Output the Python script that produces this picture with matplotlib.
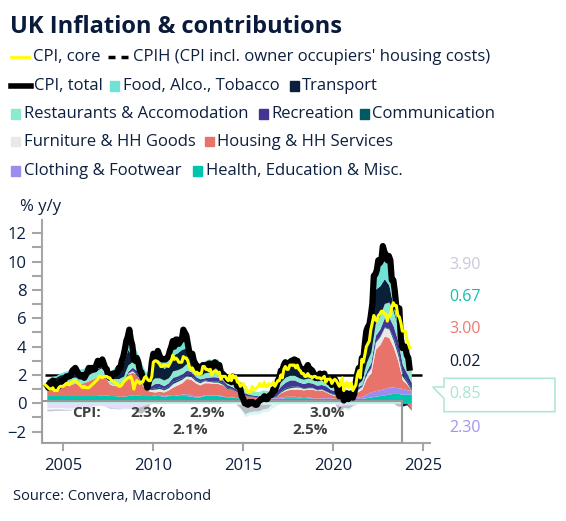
import numpy as np
import matplotlib
matplotlib.use('Agg')
import matplotlib.pyplot as plt
from matplotlib.lines import Line2D
from matplotlib.patches import Rectangle, Polygon
from matplotlib.ticker import MultipleLocator

plt.rcParams['font.family'] = ['Open Sans', 'DejaVu Sans']

W, H = 566, 521
NAVY = '#0c1f3f'
GREY = '#a6a6a6'

# CPI headline and core, % y/y, monthly Jan 2004 - Apr 2024
cpi_total = [
    1.4, 1.3, 1.1, 1.1, 1.5, 1.6, 1.4, 1.3, 1.1, 1.2, 1.5, 1.6,
    1.6, 1.7, 1.9, 1.9, 1.9, 2.0, 2.3, 2.4, 2.5, 2.3, 2.1, 1.9,
    1.9, 2.0, 1.8, 2.0, 2.2, 2.5, 2.4, 2.5, 2.4, 2.4, 2.7, 3.0,
    2.7, 2.8, 3.1, 2.8, 2.5, 2.4, 1.9, 1.8, 1.8, 2.1, 2.1, 2.1,
    2.2, 2.5, 2.5, 3.0, 3.3, 3.8, 4.4, 4.7, 5.2, 4.5, 4.1, 3.1,
    3.0, 3.2, 2.9, 2.3, 2.2, 1.8, 1.8, 1.6, 1.1, 1.5, 1.9, 2.9,
    3.5, 3.0, 3.4, 3.7, 3.4, 3.2, 3.1, 3.1, 3.1, 3.2, 3.3, 3.7,
    4.0, 4.4, 4.0, 4.5, 4.5, 4.2, 4.4, 4.5, 5.2, 5.0, 4.8, 4.2,
    3.6, 3.4, 3.5, 3.0, 2.8, 2.4, 2.6, 2.5, 2.2, 2.7, 2.7, 2.7,
    2.7, 2.8, 2.8, 2.4, 2.7, 2.9, 2.8, 2.7, 2.7, 2.2, 2.1, 2.0,
    1.9, 1.7, 1.6, 1.8, 1.5, 1.9, 1.6, 1.5, 1.2, 1.3, 1.0, 0.5,
    0.3, 0.0, 0.0, -0.1, 0.1, 0.0, 0.1, 0.0, -0.1, -0.1, 0.1, 0.2,
    0.3, 0.3, 0.5, 0.3, 0.3, 0.5, 0.6, 0.6, 1.0, 0.9, 1.2, 1.6,
    1.8, 2.3, 2.3, 2.7, 2.9, 2.6, 2.6, 2.9, 3.0, 3.0, 3.1, 3.0,
    3.0, 2.7, 2.5, 2.4, 2.4, 2.4, 2.5, 2.7, 2.4, 2.4, 2.3, 2.1,
    1.8, 1.9, 1.9, 2.1, 2.0, 2.0, 2.1, 1.7, 1.7, 1.5, 1.5, 1.3,
    1.8, 1.7, 1.5, 0.8, 0.5, 0.6, 1.0, 0.2, 0.5, 0.7, 0.3, 0.6,
    0.7, 0.4, 0.7, 1.5, 2.1, 2.5, 2.0, 3.2, 3.1, 4.2, 5.1, 5.4,
    5.5, 6.2, 7.0, 9.0, 9.1, 9.4, 10.1, 9.9, 10.1, 11.1, 10.7, 10.5,
    10.1, 10.4, 10.1, 8.7, 8.7, 7.9, 6.8, 6.7, 6.7, 4.6, 3.9, 4.0,
    4.0, 3.4, 3.2, 2.3,
]
cpi_core = [
    1.3, 1.2, 1.1, 1.0, 1.0, 1.1, 0.9, 0.9, 0.9, 1.1, 1.2, 1.2,
    1.2, 1.3, 1.4, 1.4, 1.3, 1.4, 1.5, 1.6, 1.6, 1.5, 1.4, 1.3,
    1.2, 1.1, 1.2, 1.1, 1.1, 1.1, 1.2, 1.3, 1.4, 1.5, 1.6, 1.7,
    1.9, 1.9, 1.8, 1.9, 1.9, 1.9, 1.8, 1.8, 1.6, 1.6, 1.5, 1.4,
    1.4, 1.2, 1.2, 1.3, 1.5, 1.6, 1.7, 1.8, 1.8, 1.9, 1.6, 1.0,
    1.4, 1.6, 1.5, 1.4, 1.5, 1.5, 1.8, 1.9, 1.7, 1.6, 1.6, 1.9,
    2.9, 3.0, 3.0, 2.9, 2.8, 2.6, 2.6, 2.7, 2.7, 2.7, 2.6, 2.8,
    3.0, 3.4, 3.1, 3.2, 3.1, 2.9, 2.9, 2.9, 3.3, 3.2, 3.2, 3.0,
    2.6, 2.4, 2.5, 2.3, 2.1, 2.2, 2.1, 2.1, 2.1, 2.6, 2.6, 2.4,
    2.4, 2.3, 2.4, 2.0, 2.2, 2.3, 2.3, 2.1, 2.2, 1.7, 1.9, 1.9,
    1.9, 1.7, 1.6, 2.0, 1.6, 2.0, 1.8, 1.9, 1.5, 1.5, 1.2, 1.3,
    1.4, 1.2, 1.0, 0.8, 0.9, 0.8, 1.2, 1.0, 1.0, 1.1, 1.2, 1.4,
    1.2, 1.2, 1.5, 1.2, 1.2, 1.4, 1.3, 1.3, 1.5, 1.2, 1.4, 1.6,
    1.6, 2.0, 1.8, 2.4, 2.6, 2.4, 2.4, 2.7, 2.7, 2.7, 2.7, 2.5,
    2.7, 2.4, 2.3, 2.1, 2.1, 1.9, 1.9, 2.1, 1.9, 1.9, 1.8, 1.9,
    1.9, 1.8, 1.8, 1.8, 1.7, 1.8, 1.9, 1.5, 1.7, 1.7, 1.7, 1.4,
    1.6, 1.7, 1.6, 1.4, 1.2, 1.4, 1.8, 0.9, 1.3, 1.5, 1.1, 1.4,
    1.4, 0.9, 1.1, 1.3, 2.0, 2.3, 1.8, 3.1, 2.9, 3.4, 4.0, 4.2,
    4.4, 5.2, 5.7, 6.2, 5.9, 5.8, 6.2, 6.3, 6.5, 6.5, 6.3, 6.3,
    5.8, 6.2, 6.2, 6.8, 7.1, 6.9, 6.9, 6.2, 6.1, 5.7, 5.1, 5.1,
    5.1, 4.5, 4.2, 3.9,
]

# contributions, pp, quarterly 2004Q1 - 2024Q2
food = [0.05, 0.10, 0.10, 0.15, 0.20, 0.25, 0.25, 0.20, 0.25, 0.25, 0.30, 0.35,
        0.40, 0.40, 0.30, 0.40, 0.55, 0.75, 1.00, 1.05, 0.95, 0.80, 0.60, 0.45,
        0.40, 0.40, 0.45, 0.60, 0.70, 0.65, 0.70, 0.70, 0.55, 0.40, 0.30, 0.45,
        0.55, 0.60, 0.55, 0.40, 0.25, 0.05, 0.00, -0.05, -0.20, -0.20, -0.20, -0.20,
        -0.20, -0.25, -0.30, -0.15, 0.05, 0.20, 0.35, 0.45, 0.35, 0.20, 0.20, 0.15,
        0.20, 0.25, 0.25, 0.25, 0.25, 0.15, -0.05, -0.15, -0.05, -0.05, 0.00, 0.35,
        0.55, 1.00, 1.55, 2.00, 2.10, 2.20, 1.75, 1.20, 0.80, 0.45]
transport = [0.15, 0.30, 0.35, 0.40, 0.35, 0.35, 0.50, 0.35, 0.30, 0.40, 0.30, 0.10,
             0.10, 0.05, 0.00, 0.40, 0.50, 0.90, 1.10, 0.30, -0.30, -0.50, -0.35, 0.30,
             1.10, 1.20, 0.80, 0.90, 1.10, 1.20, 1.30, 1.10, 0.60, 0.30, 0.30, 0.40,
             0.40, 0.20, 0.40, 0.10, 0.05, 0.20, 0.10, -0.30, -0.70, -0.50, -0.50, -0.50,
             -0.35, -0.30, 0.00, 0.20, 0.70, 0.75, 0.60, 0.60, 0.55, 0.55, 0.60, 0.55,
             0.15, 0.20, 0.10, 0.05, 0.25, -0.45, -0.20, -0.25, -0.05, 0.80, 1.05, 1.70,
             1.85, 2.40, 2.10, 1.75, 1.20, 0.30, -0.20, -0.20, -0.10, 0.02]
restaurants = [0.45, 0.45, 0.45, 0.45, 0.45, 0.45, 0.45, 0.45, 0.45, 0.45, 0.45, 0.45,
               0.50, 0.50, 0.50, 0.45, 0.45, 0.45, 0.45, 0.40, 0.40, 0.35, 0.35, 0.35,
               0.40, 0.40, 0.40, 0.35, 0.45, 0.45, 0.45, 0.45, 0.35, 0.30, 0.35, 0.35,
               0.35, 0.35, 0.35, 0.35, 0.35, 0.35, 0.35, 0.30, 0.30, 0.30, 0.30, 0.30,
               0.30, 0.30, 0.30, 0.30, 0.30, 0.35, 0.35, 0.35, 0.30, 0.30, 0.30, 0.30,
               0.30, 0.30, 0.30, 0.30, 0.35, 0.30, 0.00, 0.05, 0.05, 0.20, 0.30, 0.60,
               0.75, 0.85, 0.95, 1.00, 1.05, 1.05, 0.95, 0.85, 0.85, 0.85]
recreation = [-0.10, -0.10, -0.10, -0.10, -0.05, -0.05, 0.00, 0.00, -0.05, -0.05, -0.05, 0.00,
              0.00, 0.00, -0.10, -0.05, -0.05, 0.00, 0.10, 0.20, 0.25, 0.20, 0.15, 0.20,
              0.30, 0.25, 0.20, 0.25, 0.30, 0.25, 0.25, 0.30, 0.25, 0.20, 0.20, 0.15,
              0.25, 0.30, 0.25, 0.20, 0.20, 0.15, 0.15, 0.10, 0.15, 0.10, 0.10, 0.10,
              0.20, 0.20, 0.25, 0.30, 0.35, 0.40, 0.45, 0.40, 0.30, 0.30, 0.35, 0.30,
              0.30, 0.30, 0.35, 0.25, 0.25, 0.25, 0.35, 0.30, 0.25, 0.15, 0.10, 0.20,
              0.35, 0.45, 0.50, 0.65, 0.80, 0.80, 0.75, 0.65, 0.50, 0.45]
communication = [-0.03, -0.03, -0.02, -0.02, -0.02, -0.02, -0.02, -0.02, -0.01, 0.00, 0.00, 0.00,
                 0.00, 0.00, 0.00, 0.00, 0.00, 0.02, 0.03, 0.05, 0.05, 0.05, 0.05, 0.05,
                 0.10, 0.10, 0.10, 0.10, 0.15, 0.12, 0.12, 0.10, 0.10, 0.10, 0.08, 0.05,
                 0.05, 0.08, 0.10, 0.10, 0.08, 0.05, 0.03, 0.03, 0.03, 0.03, 0.03, 0.03,
                 0.05, 0.05, 0.05, 0.05, 0.08, 0.10, 0.10, 0.10, 0.05, 0.05, 0.03, 0.03,
                 0.03, 0.03, 0.03, 0.03, 0.05, 0.10, 0.10, 0.08, 0.05, 0.05, 0.03, 0.03,
                 0.03, 0.05, 0.05, 0.05, 0.05, 0.20, 0.25, 0.20, 0.15, 0.10]
furniture = [-0.10, -0.10, -0.08, -0.08, -0.08, -0.08, -0.05, -0.05, -0.05, -0.05, -0.05, -0.05,
             0.00, 0.05, 0.05, 0.05, 0.05, 0.05, 0.08, 0.10, 0.00, 0.05, 0.10, 0.12,
             0.20, 0.20, 0.15, 0.15, 0.25, 0.25, 0.25, 0.20, 0.20, 0.15, 0.15, 0.15,
             0.10, 0.10, 0.10, 0.05, 0.00, 0.00, -0.05, -0.05, -0.05, -0.05, -0.05, -0.05,
             -0.05, -0.05, -0.05, 0.00, 0.05, 0.10, 0.10, 0.15, 0.15, 0.10, 0.10, 0.10,
             0.05, 0.05, 0.05, 0.05, 0.05, 0.00, 0.05, 0.05, 0.10, 0.15, 0.20, 0.30,
             0.40, 0.50, 0.55, 0.60, 0.60, 0.50, 0.40, 0.25, 0.10, 0.00]
housing = [0.50, 0.50, 0.50, 0.60, 0.70, 0.75, 0.85, 0.85, 0.90, 1.00, 1.15, 1.30,
           1.40, 1.20, 0.80, 0.70, 0.75, 0.90, 1.50, 1.60, 1.40, 0.85, 0.40, 0.30,
           0.20, 0.20, 0.25, 0.35, 0.60, 0.70, 0.80, 1.05, 1.10, 0.95, 0.80, 0.85,
           0.85, 0.80, 0.80, 0.75, 0.60, 0.50, 0.45, 0.30, 0.20, 0.15, 0.10, 0.05,
           0.05, 0.00, 0.05, 0.10, 0.30, 0.40, 0.50, 0.50, 0.55, 0.55, 0.55, 0.60,
           0.55, 0.55, 0.40, 0.25, 0.20, 0.15, 0.15, 0.15, 0.10, 0.35, 0.50, 1.10,
           1.30, 2.90, 3.20, 3.70, 3.50, 2.80, 1.90, 0.60, 0.40, -0.50]
clothing = [-0.30, -0.30, -0.30, -0.30, -0.35, -0.35, -0.30, -0.30, -0.25, -0.25, -0.20, -0.15,
            -0.15, -0.20, -0.25, -0.30, -0.35, -0.35, -0.35, -0.35, -0.30, -0.20, -0.10, 0.00,
            0.05, 0.10, 0.05, 0.05, 0.00, 0.05, 0.10, 0.15, 0.10, 0.05, 0.05, 0.05,
            0.05, 0.05, 0.05, 0.05, 0.00, 0.05, 0.00, 0.00, 0.00, -0.05, 0.00, 0.00,
            0.00, 0.00, 0.05, 0.05, 0.10, 0.10, 0.10, 0.10, 0.05, 0.00, 0.05, 0.05,
            0.00, 0.05, 0.05, 0.05, 0.00, -0.15, -0.10, -0.10, -0.10, 0.10, 0.15, 0.25,
            0.35, 0.40, 0.40, 0.45, 0.50, 0.45, 0.40, 0.40, 0.30, 0.25]
health = [0.55, 0.55, 0.55, 0.55, 0.55, 0.55, 0.55, 0.55, 0.55, 0.55, 0.55, 0.55,
          0.60, 0.60, 0.55, 0.55, 0.50, 0.50, 0.55, 0.60, 0.60, 0.55, 0.55, 0.55,
          0.55, 0.55, 0.50, 0.55, 0.55, 0.55, 0.55, 0.55, 0.50, 0.45, 0.45, 0.55,
          0.55, 0.55, 0.55, 0.50, 0.45, 0.45, 0.40, 0.40, 0.35, 0.35, 0.35, 0.35,
          0.35, 0.35, 0.35, 0.35, 0.35, 0.40, 0.40, 0.40, 0.40, 0.40, 0.40, 0.35,
          0.35, 0.35, 0.35, 0.35, 0.35, 0.35, 0.35, 0.35, 0.35, 0.35, 0.35, 0.40,
          0.45, 0.50, 0.55, 0.60, 0.65, 0.70, 0.70, 0.65, 0.65, 0.67]

target = 2.0
period_avg = ['2.3%', '2.9%', '3.0%', '2.1%', '2.5%']
last_values = ['3.90', '0.67', '3.00', '0.02', '0.85', '2.30']

# bottom-up stacking order with colours
stack = [
    ('Health, Education & Misc.', health, '#00c4ae'),
    ('Clothing & Footwear', clothing, '#9b8cf0'),
    ('Housing & HH Services', housing, '#e8736a'),
    ('Furniture & HH Goods', furniture, '#e8e8e8'),
    ('Communication', communication, '#005a63'),
    ('Recreation', recreation, '#433593'),
    ('Restaurants & Accomodation', restaurants, '#8de8d0'),
    ('Transport', transport, '#0b1e3a'),
    ('Food, Alco., Tobacco', food, '#6fe3d6'),
]
colours = {name: c for name, _, c in stack}

months = 2004 + np.arange(len(cpi_total)) / 12
quarters = 2004 + (np.arange(len(food)) * 3 + 1) / 12


def fx(px):
    return px / W


def fy(py):
    return 1 - py / H


fig = plt.figure(figsize=(W / 100, H / 100), dpi=100)
ax = fig.add_axes([fx(41.7), fy(443), fx(430) - fx(41.7), fy(220) - fy(443)])
ax.set_xlim(2003.8, 2025.37)
ax.set_ylim(-2.8, 12.94)

ax.hlines(target, months[0], 2024.9, color='black', lw=1.8, zorder=1)

pos_base = np.zeros(len(quarters))
neg_base = np.zeros(len(quarters))
for name, vals, col in stack:
    v = np.array(vals)
    p = np.clip(v, 0, None)
    n = np.clip(v, None, 0)
    ax.fill_between(quarters, pos_base, pos_base + p, color=col, lw=0, zorder=2)
    ax.fill_between(quarters, neg_base, neg_base + n, color=col, lw=0, zorder=2)
    pos_base += p
    neg_base += n

# CPI period-average box covering the negative part
ax.add_patch(Rectangle((2003.8, -2.8), 2023.8 - 2003.8, 2.95, facecolor='white', alpha=0.72,
                       lw=0, zorder=3))
ax.add_patch(Rectangle((2003.8, -2.8), 2023.8 - 2003.8, 2.95, facecolor='none',
                       edgecolor='#999999', lw=1.5, zorder=3))

ax.plot(months, cpi_total, color='black', lw=4.5, zorder=4,
        solid_joinstyle='round', solid_capstyle='butt')
ax.plot(months, cpi_core, color='#ffff00', lw=2.2, zorder=5)

tk = dict(fontsize=11, fontweight='bold', color='#404040', ha='center', va='center', zorder=6)
ax.text(2006.3, -0.7, 'CPI:', **tk)
for txt, xx, yy in zip(period_avg, [2009.72, 2013.0, 2019.67, 2012.04, 2018.7],
                       [-0.7, -0.7, -0.7, -1.88, -1.88]):
    ax.text(xx, yy, txt, **tk)

for s in ['top', 'right']:
    ax.spines[s].set_visible(False)
for s in ['left', 'bottom']:
    ax.spines[s].set_color(GREY)
    ax.spines[s].set_linewidth(1.5)
ax.yaxis.set_major_locator(MultipleLocator(2))
ax.yaxis.set_minor_locator(MultipleLocator(1))
ax.set_xticks([2005, 2010, 2015, 2020, 2025])
ax.tick_params(axis='both', which='both', colors=GREY, labelcolor=NAVY, labelsize=12,
               width=1.5)
ax.tick_params(axis='y', which='both', length=7, pad=4)
ax.tick_params(axis='x', length=6, pad=5)
ax.set_facecolor('none')

fig.text(fx(20), fy(207), '% y/y', fontsize=12, color=NAVY, va='center')

# title
fig.text(fx(10), fy(27), 'UK Inflation & contributions', fontsize=17, fontweight='bold',
         color='#0a1a3a', va='center')

# legend built row by row
rows_y = [57, 86, 114, 142, 171]
legend_items = [
    [('line', 'CPI, core', '#ffff00', 11, 33), ('dash', "CPIH (CPI incl. owner occupiers' housing costs)", 'black', 108, 133)],
    [('thick', 'CPI, total', 'black', 11, 34), ('sq', 'Food, Alco., Tobacco', colours['Food, Alco., Tobacco'], 110, 123),
     ('sq', 'Transport', colours['Transport'], 290, 302)],
    [('sq', 'Restaurants & Accomodation', colours['Restaurants & Accomodation'], 11, 24),
     ('sq', 'Recreation', colours['Recreation'], 259, 271), ('sq', 'Communication', colours['Communication'], 360, 372)],
    [('sq', 'Furniture & HH Goods', colours['Furniture & HH Goods'], 11, 24),
     ('sq', 'Housing & HH Services', colours['Housing & HH Services'], 205, 217)],
    [('sq', 'Clothing & Footwear', colours['Clothing & Footwear'], 11, 24),
     ('sq', 'Health, Education & Misc.', colours['Health, Education & Misc.'], 193, 206)],
]
for yy, items in zip(rows_y, legend_items):
    for kind, label, col, hx, tx in items:
        if kind == 'line':
            fig.add_artist(Line2D([fx(hx), fx(hx + 18)], [fy(yy), fy(yy)], color=col, lw=2,
                                  transform=fig.transFigure))
        elif kind == 'thick':
            fig.add_artist(Line2D([fx(hx), fx(hx + 20)], [fy(yy), fy(yy)], color=col, lw=4,
                                  transform=fig.transFigure))
        elif kind == 'dash':
            for d0 in (hx, hx + 13):
                fig.add_artist(Line2D([fx(d0), fx(d0 + 7)], [fy(yy), fy(yy)], color=col,
                                      lw=2.5, solid_capstyle='butt', transform=fig.transFigure))
        else:
            fig.add_artist(Rectangle((fx(hx), fy(yy + 4.5)), fx(9), 9 / H, color=col,
                                     transform=fig.transFigure))
        fig.text(fx(tx), fy(yy), label, fontsize=12, color=NAVY, va='center')

# last value labels on the right
lab_cols = ['#c8c8dc', '#10c0b0', '#ec7a70', '#0a1f3a', '#a6e6d4', '#a394f0']
lab_y = [265, 297, 329, 362, 394, 428]
for txt, col, yy in zip(last_values, lab_cols, lab_y):
    fig.text(fx(465), fy(yy), txt, fontsize=11.5, color=col, ha='center', va='center')
callout = Polygon([(fx(444), fy(378.3)), (fx(555), fy(378.3)), (fx(555), fy(411.7)),
                   (fx(444), fy(411.7)), (fx(444), fy(398.3)), (fx(432.7), fy(387)),
                   (fx(444), fy(387))], closed=True, facecolor='none', edgecolor='#b0e8d8',
                  lw=1.2, transform=fig.transFigure)
fig.add_artist(callout)

fig.text(fx(13), fy(497), 'Source: Convera, Macrobond', fontsize=10.5, color=NAVY, va='center')

fig.savefig('out.png', dpi=100)
